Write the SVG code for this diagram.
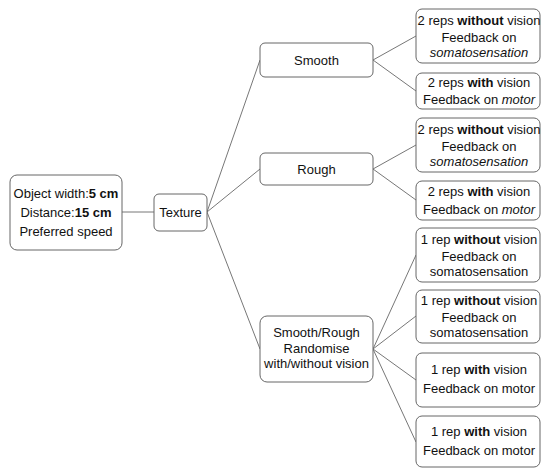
<svg xmlns="http://www.w3.org/2000/svg" width="542" height="468" viewBox="0 0 542 468">
<style>
.box{fill:#fff;stroke:#666;stroke-width:1}
.c{stroke:#777;stroke-width:1;fill:none}
text{font-family:"Liberation Sans",Arial,sans-serif;font-size:13px;fill:#111;text-anchor:middle}
.b{font-weight:bold}
.i{font-style:italic}
</style>
<rect width="542" height="468" fill="#fff"/>
<g id="connectors">
<line class="c" x1="122" y1="212" x2="154" y2="212"/>
<line class="c" x1="207" y1="212" x2="260" y2="60"/>
<line class="c" x1="207" y1="212" x2="260" y2="169"/>
<line class="c" x1="207" y1="212" x2="260" y2="349"/>
<line class="c" x1="373" y1="60" x2="416" y2="36"/>
<line class="c" x1="373" y1="60" x2="416" y2="91"/>
<line class="c" x1="373" y1="169" x2="416" y2="145"/>
<line class="c" x1="373" y1="169" x2="416" y2="200"/>
<line class="c" x1="373" y1="349" x2="416" y2="255"/>
<line class="c" x1="373" y1="349" x2="416" y2="316"/>
<line class="c" x1="373" y1="349" x2="416" y2="380"/>
<line class="c" x1="373" y1="349" x2="416" y2="442"/>
</g>
<g id="start">
<rect class="box" x="10" y="175" width="112" height="75" rx="7"/>
<text x="66" y="198">Object width:<tspan class="b">5 cm</tspan></text>
<text x="66" y="217">Distance:<tspan class="b">15 cm</tspan></text>
<text x="66" y="236">Preferred speed</text>
</g>
<g id="texture">
<rect class="box" x="154" y="194" width="53" height="37" rx="5"/>
<text x="180.5" y="217">Texture</text>
</g>
<g id="smooth">
<rect class="box" x="260" y="43" width="113" height="34" rx="5"/>
<text x="316.5" y="65">Smooth</text>
</g>
<g id="rough">
<rect class="box" x="260" y="153" width="113" height="32" rx="5"/>
<text x="316.5" y="174">Rough</text>
</g>
<g id="smoothrough">
<rect class="box" x="260" y="316" width="113" height="66" rx="7"/>
<text x="316.5" y="337">Smooth/Rough</text>
<text x="316.5" y="353">Randomise</text>
<text x="316.5" y="368">with/without vision</text>
</g>
<g id="s1">
<rect class="box" x="416" y="9" width="124" height="54" rx="6"/>
<text x="479" y="25">2 reps <tspan class="b">without</tspan> vision</text>
<text x="479" y="42">Feedback on</text>
<text x="479" y="57" class="i">somatosensation</text>
</g>
<g id="s2">
<rect class="box" x="416" y="73" width="124" height="36" rx="6"/>
<text x="479" y="87">2 reps <tspan class="b">with</tspan> vision</text>
<text x="479" y="104">Feedback on <tspan class="i">motor</tspan></text>
</g>
<g id="r1">
<rect class="box" x="416" y="118" width="124" height="54" rx="6"/>
<text x="479" y="134">2 reps <tspan class="b">without</tspan> vision</text>
<text x="479" y="151">Feedback on</text>
<text x="479" y="166" class="i">somatosensation</text>
</g>
<g id="r2">
<rect class="box" x="416" y="181" width="124" height="39" rx="6"/>
<text x="479" y="196">2 reps <tspan class="b">with</tspan> vision</text>
<text x="479" y="214">Feedback on <tspan class="i">motor</tspan></text>
</g>
<g id="m1">
<rect class="box" x="416" y="228" width="124" height="54" rx="6"/>
<text x="479" y="244">1 rep <tspan class="b">without</tspan> vision</text>
<text x="479" y="261">Feedback on</text>
<text x="479" y="276">somatosensation</text>
</g>
<g id="m2">
<rect class="box" x="416" y="290" width="124" height="53" rx="6"/>
<text x="479" y="305">1 rep <tspan class="b">without</tspan> vision</text>
<text x="479" y="322">Feedback on</text>
<text x="479" y="337">somatosensation</text>
</g>
<g id="m3">
<rect class="box" x="416" y="353" width="124" height="54" rx="6"/>
<text x="479" y="374">1 rep <tspan class="b">with</tspan> vision</text>
<text x="479" y="393">Feedback on motor</text>
</g>
<g id="m4">
<rect class="box" x="416" y="416" width="124" height="51" rx="6"/>
<text x="479" y="436">1 rep <tspan class="b">with</tspan> vision</text>
<text x="479" y="455">Feedback on motor</text>
</g>
</svg>
